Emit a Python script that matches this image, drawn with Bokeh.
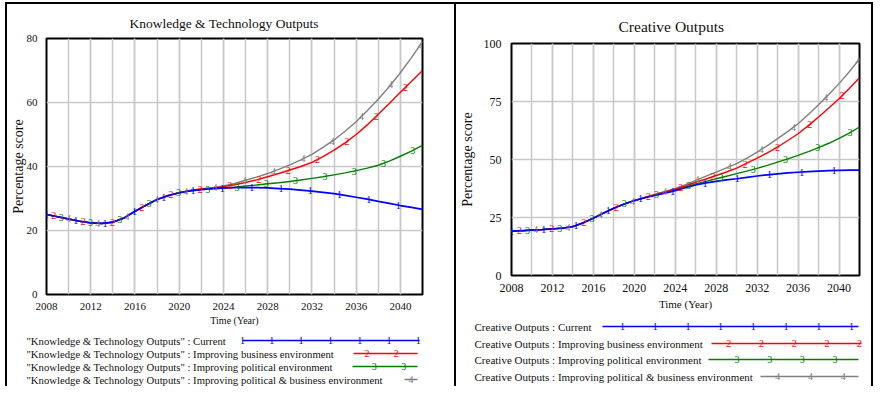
import numpy as np
from bokeh.plotting import figure
from bokeh.layouts import row, column
from bokeh.models import Range1d, SingleIntervalTicker, FixedTicker, Title
from bokeh.embed import file_html
from bokeh.resources import INLINE
from bokeh.core.properties import value

# ---------------- data ----------------
YEARS = list(range(2008, 2043))

KT_CURRENT = [25.0, 24.3, 23.6, 22.9, 22.4, 22.2, 22.6, 23.9, 26.0, 27.9, 29.7, 30.9, 31.8,
              32.4, 32.8, 33.1, 33.3, 33.4, 33.4, 33.4, 33.3, 33.1, 32.9, 32.6, 32.3, 31.9,
              31.5, 31.0, 30.4, 29.8, 29.1, 28.5, 27.8, 27.2, 26.6]
KT_BUSINESS = [25.0, 24.3, 23.6, 22.9, 22.4, 22.2, 22.6, 23.9, 26.0, 27.9, 29.7, 30.9, 31.8,
               32.5, 33.0, 33.3, 33.7, 34.3, 35.0, 35.8, 36.8, 37.8, 38.9, 40.0, 41.3, 43.1,
               45.1, 47.4, 50.0, 53.0, 56.3, 59.7, 63.2, 66.6, 70.0]
KT_POLITICAL = [25.0, 24.3, 23.6, 22.9, 22.4, 22.2, 22.6, 23.9, 26.0, 27.9, 29.7, 30.9, 31.8,
                32.4, 32.8, 33.0, 33.2, 33.5, 33.9, 34.2, 34.6, 34.9, 35.3, 35.8, 36.3, 36.8,
                37.4, 38.0, 38.7, 39.5, 40.4, 41.7, 43.2, 44.8, 46.6]
KT_BOTH = [25.0, 24.3, 23.6, 22.9, 22.4, 22.2, 22.6, 23.9, 26.0, 27.9, 29.7, 30.9, 31.8,
           32.5, 33.0, 33.4, 33.9, 34.7, 35.7, 36.7, 37.8, 39.1, 40.5, 42.1, 43.8, 46.0,
           48.3, 51.0, 54.0, 57.4, 61.0, 65.0, 69.3, 74.0, 79.0]

CO_CURRENT = [19.1, 19.3, 19.6, 19.8, 20.1, 20.4, 21.1, 22.7, 24.7, 26.9, 29.0, 30.8, 32.3,
              33.5, 34.5, 35.5, 36.6, 37.8, 39.0, 39.9, 40.6, 41.2, 41.7, 42.3, 42.9, 43.4,
              43.8, 44.2, 44.5, 44.8, 45.0, 45.2, 45.3, 45.4, 45.4]
CO_BUSINESS = [19.1, 19.3, 19.6, 19.8, 20.1, 20.4, 21.1, 22.7, 24.7, 26.9, 29.0, 30.8, 32.3,
               33.6, 34.8, 36.0, 37.2, 38.6, 40.2, 41.6, 43.1, 44.6, 46.3, 48.4, 50.6, 52.9,
               55.4, 58.2, 61.1, 64.6, 68.3, 72.2, 76.2, 80.6, 85.2]
CO_POLITICAL = [19.1, 19.3, 19.6, 19.8, 20.1, 20.4, 21.1, 22.7, 24.7, 26.9, 29.0, 30.8, 32.3,
                33.5, 34.6, 35.7, 36.9, 38.2, 39.5, 40.6, 41.7, 42.8, 43.9, 45.0, 46.2, 47.5,
                48.9, 50.3, 51.8, 53.4, 55.1, 57.0, 59.1, 61.4, 64.0]
CO_BOTH = [19.1, 19.3, 19.6, 19.8, 20.1, 20.4, 21.1, 22.7, 24.7, 26.9, 29.0, 30.8, 32.3,
           33.6, 34.9, 36.2, 37.5, 39.2, 41.0, 42.8, 44.6, 46.4, 48.2, 50.6, 53.2, 56.0,
           59.0, 62.1, 65.4, 69.4, 73.6, 78.0, 82.7, 87.8, 93.3]

KT_Y_TICKS = [0, 20, 40, 60, 80]
CO_Y_TICKS = [0, 25, 50, 75, 100]

KT_TITLE = "Knowledge & Technology Outputs"
CO_TITLE = "Creative Outputs"
SCENARIOS = ["Current", "Improving business environment",
             "Improving political environment", "Improving political & business environment"]
KT_LABELS = ['"Knowledge & Technology Outputs" : ' + s for s in SCENARIOS]
CO_LABELS = ["Creative Outputs : " + s for s in SCENARIOS]

# ---------------- style ----------------
COLORS = ["#0000ff", "#ff0000", "#008000", "#808080"]
SERIF = "Liberation Serif"
GRID = "#c8c8c8"


def no_align(fig):
    try:
        fig.frame_align = False
    except Exception:
        pass


def chart(title, series, y_ticks, width, height, borders, title_size, title_offset,
          title_standoff, tick_size, xlab_size, ylab_standoff, ylab_tick_standoff,
          xlab_standoff, period):
    left, right, top, bottom = borders
    p = figure(width=width, height=height, output_backend="svg", toolbar_location=None,
               x_range=Range1d(YEARS[0], YEARS[-1]), y_range=Range1d(y_ticks[0], y_ticks[-1]),
               min_border_left=left, min_border_right=right, min_border_top=top,
               min_border_bottom=bottom)
    no_align(p)
    p.border_fill_color = None
    p.background_fill_color = "white"
    p.add_layout(Title(text=title, align="left", offset=title_offset, text_font=SERIF,
                       text_font_size=title_size, text_font_style="normal",
                       text_color="#111111", standoff=title_standoff), "above")
    p.outline_line_color = "black"
    p.outline_line_width = 2
    p.xaxis.ticker = SingleIntervalTicker(interval=4, num_minor_ticks=2)
    p.yaxis.ticker = FixedTicker(ticks=y_ticks)
    for ax in (p.xaxis[0], p.yaxis[0]):
        ax.axis_line_color = None
        ax.major_tick_line_color = None
        ax.minor_tick_line_color = None
        ax.major_tick_out = 0
        ax.major_tick_in = 0
        ax.minor_tick_out = 0
        ax.major_label_text_font = SERIF
        ax.major_label_text_font_size = tick_size
        ax.major_label_text_color = "#111111"
        ax.axis_label_text_font = SERIF
        ax.axis_label_text_font_style = "normal"
        ax.axis_label_text_color = "#111111"
    p.xaxis.axis_label = "Time (Year)"
    p.xaxis.axis_label_text_font_size = xlab_size
    p.xaxis.major_label_standoff = 8
    p.xaxis.axis_label_standoff = xlab_standoff
    p.yaxis.axis_label = "Percentage score"
    p.yaxis.axis_label_text_font_size = "14px"
    p.yaxis.major_label_standoff = ylab_tick_standoff
    p.yaxis.axis_label_standoff = ylab_standoff
    p.xgrid.grid_line_color = GRID
    p.xgrid.minor_grid_line_color = GRID
    p.xgrid.grid_line_width = 1.5
    p.xgrid.minor_grid_line_width = 1.5
    p.ygrid.grid_line_color = GRID
    p.ygrid.grid_line_width = 1.5

    # draw back-to-front: gray, green, red, blue on top
    for j in (3, 2, 1, 0):
        p.line(YEARS, series[j], line_color=COLORS[j], line_width=1.4 if j else 1.7)
    for j in (3, 2, 1, 0):
        xs = YEARS[0] + period * (np.arange(0, 20) + j / 4.0)
        xs = xs[xs <= YEARS[-1]]
        ys = np.interp(xs, YEARS, series[j])
        p.text(x=xs, y=ys, text=[str(j + 1)] * len(xs), text_color=COLORS[j],
               text_font=value(SERIF), text_font_size="10px", text_align="center",
               text_baseline="middle")
    return p


def legend(labels, width, height, text_x, text_size, row_ys, starts, ends, first_mark, period):
    lf = figure(width=width, height=height, output_backend="svg", toolbar_location=None,
                x_range=Range1d(0, width), y_range=Range1d(height, 0),
                x_axis_type=None, y_axis_type=None, min_border=0)
    no_align(lf)
    lf.outline_line_color = None
    lf.border_fill_color = None
    lf.background_fill_color = None
    lf.grid.visible = False
    lf.text(x=[text_x] * 4, y=row_ys, text=labels, text_font=value(SERIF),
            text_font_size=text_size, text_baseline="middle", text_align="left",
            text_color="#111111")
    lf.segment(x0=starts, y0=row_ys, x1=ends, y1=row_ys, line_color=COLORS, line_width=1.4)
    for j in range(4):
        xs = first_mark + period * (np.arange(0, 12) + j / 4.0)
        xs = xs[(xs >= starts[j] - 1) & (xs <= ends[j] + 1)]
        lf.text(x=xs, y=[row_ys[j]] * len(xs), text=[str(j + 1)] * len(xs),
                text_color=COLORS[j], text_font=value(SERIF), text_font_size="10px",
                text_align="center", text_baseline="middle")
    return lf


kt = chart(KT_TITLE, [KT_CURRENT, KT_BUSINESS, KT_POLITICAL, KT_BOTH], KT_Y_TICKS,
           456, 328, (46, 34, 38, 32), "13.5px", 83, 16, "11px", "10px", -2, 9, 2, 2.65)
kt_leg = legend(KT_LABELS, 456, 58, 26, "10.7px", [12, 25, 38, 51],
                [242, 353, 352, 404], [419, 417, 417, 417], 242, 29.3)

co = chart(CO_TITLE, [CO_CURRENT, CO_BUSINESS, CO_POLITICAL, CO_BOTH], CO_Y_TICKS,
           417, 316, (50, 14, 43, 41), "15.5px", 107, 18, "12px", "11px", 6, 10, 3, 3.15)
co_leg = legend(CO_LABELS, 417, 70, 18, "11px", [10, 27, 43, 60],
                [146, 255, 252, 304], [402, 405, 402, 402], 166, 32.7)

LEFT_BOX = ("inset 5px 0 0 0 #ffffff, inset 0 2px 0 0 #ffffff, inset 7px 0 0 0 #000000, "
            "inset 0 4px 0 0 #000000, inset -2px 0 0 0 #000000")
RIGHT_BOX = ("inset 0 2px 0 0 #ffffff, inset 0 4px 0 0 #000000, "
             "inset -2px 0 0 0 #000000")

left_col = column(kt, kt_leg, styles={"box-shadow": LEFT_BOX})
right_col = column(co, co_leg, styles={"box-shadow": RIGHT_BOX})
page = row(left_col, right_col)

open("out.html", "w").write(file_html(page, INLINE))
